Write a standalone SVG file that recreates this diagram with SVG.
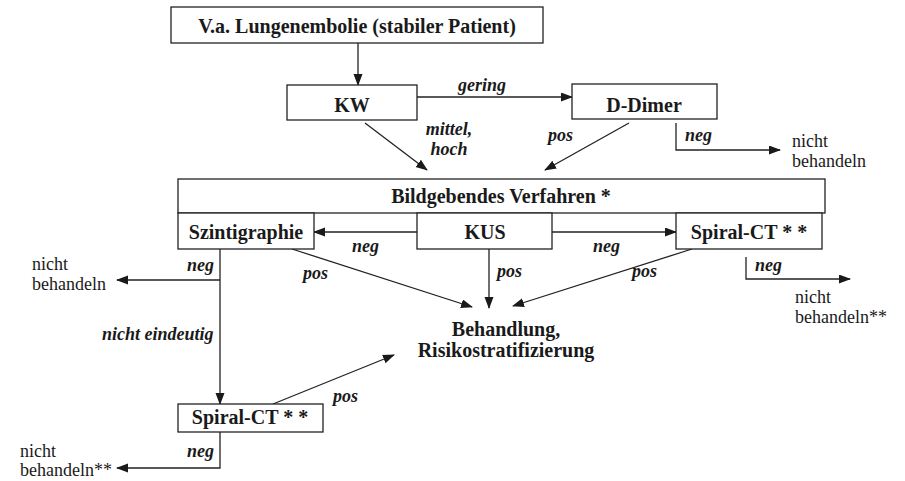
<svg xmlns="http://www.w3.org/2000/svg" width="905" height="481" viewBox="0 0 905 481">
<style>
.box{fill:#fff;stroke:#222;stroke-width:1.3}
.bt{font-family:'Liberation Serif','Noto Serif','DejaVu Serif',serif;font-weight:bold;font-size:20px;fill:#1a1a1a;text-anchor:middle}
.lb{font-family:'Liberation Serif','Noto Serif','DejaVu Serif',serif;font-weight:bold;font-style:italic;font-size:18px;fill:#1a1a1a}
.nt{font-family:'Liberation Serif','Noto Serif','DejaVu Serif',serif;font-size:18px;fill:#1a1a1a}
.ln{fill:none;stroke:#222;stroke-width:1.3}
.ar{marker-end:url(#ah)}
</style>
<defs>
<marker id="ah" markerUnits="userSpaceOnUse" markerWidth="12" markerHeight="10" refX="11" refY="4.5" orient="auto">
<path d="M0,0 L12,4.5 L0,9 z" fill="#1a1a1a"/>
</marker>
</defs>
<rect width="905" height="481" fill="#fff"/>
<g id="connectors">
<line class="ln ar" x1="358" y1="43" x2="358" y2="85"/>
<line class="ln ar" x1="417" y1="97" x2="572" y2="97"/>
<line class="ln ar" x1="365" y1="123" x2="427" y2="170"/>
<line class="ln ar" x1="629" y1="123" x2="545" y2="170"/>
<polyline class="ln ar" points="676,123 676,150 780,150"/>
<line class="ln ar" x1="417" y1="232" x2="314" y2="232"/>
<line class="ln ar" x1="552" y1="232" x2="676" y2="232"/>
<line class="ln ar" x1="292" y1="249" x2="472" y2="307"/>
<line class="ln ar" x1="489" y1="249" x2="489" y2="308"/>
<line class="ln ar" x1="692" y1="249" x2="513" y2="306"/>
<line class="ln ar" x1="220" y1="249" x2="220" y2="404"/>
<polyline class="ln ar" points="220,280 117,280"/>
<polyline class="ln ar" points="746,257 746,279 850,279"/>
<line class="ln ar" x1="273" y1="404" x2="394" y2="355"/>
<polyline class="ln ar" points="220,431 220,468 117,468"/>
<text class="lb" x="458" y="91">gering</text>
<text class="lb" x="449" y="135" text-anchor="middle">mittel,</text>
<text class="lb" x="449" y="155" text-anchor="middle">hoch</text>
<text class="lb" x="548" y="141">pos</text>
<text class="lb" x="685" y="141">neg</text>
<text class="lb" x="352" y="252">neg</text>
<text class="lb" x="593" y="252">neg</text>
<text class="lb" x="303" y="279">pos</text>
<text class="lb" x="497" y="277">pos</text>
<text class="lb" x="632" y="277">pos</text>
<text class="lb" x="187" y="271">neg</text>
<text class="lb" x="755" y="271">neg</text>
<text class="lb" x="102" y="340">nicht eindeutig</text>
<text class="lb" x="333" y="402">pos</text>
<text class="lb" x="187" y="457">neg</text>
</g>
<g id="start">
<rect class="box" x="171" y="7" width="372" height="36"/>
<text class="bt" x="357" y="33">V.a. Lungenembolie (stabiler Patient)</text>
</g>
<g id="kw">
<rect class="box" x="287" y="85" width="130" height="35"/>
<text class="bt" x="352" y="112">KW</text>
</g>
<g id="ddimer">
<rect class="box" x="572" y="84" width="145" height="35"/>
<text class="bt" x="644" y="112">D-Dimer</text>
</g>
<g id="nb1">
<text class="nt" x="792" y="147">nicht</text>
<text class="nt" x="792" y="167">behandeln</text>
</g>
<g id="bildgebend">
<rect class="box" x="178" y="179" width="647" height="34"/>
<text class="bt" x="501" y="203">Bildgebendes Verfahren *</text>
</g>
<g id="szinti">
<rect class="box" x="178" y="213" width="136" height="36"/>
<text class="bt" x="246" y="239">Szintigraphie</text>
</g>
<g id="kus">
<rect class="box" x="417" y="213" width="135" height="36"/>
<text class="bt" x="485" y="239">KUS</text>
</g>
<g id="spiral1">
<rect class="box" x="676" y="213" width="146" height="36"/>
<text class="bt" x="749" y="239">Spiral-CT * *</text>
</g>
<g id="nb2">
<text class="nt" x="32" y="270">nicht</text>
<text class="nt" x="32" y="290">behandeln</text>
</g>
<g id="nb3">
<text class="nt" x="795" y="303">nicht</text>
<text class="nt" x="795" y="323">behandeln**</text>
</g>
<g id="behandlung">
<text class="bt" x="506" y="336">Behandlung,</text>
<text class="bt" x="506" y="357">Risikostratifizierung</text>
</g>
<g id="spiral2">
<rect class="box" x="178" y="404" width="145" height="28"/>
<text class="bt" x="250" y="424">Spiral-CT * *</text>
</g>
<g id="nb4">
<text class="nt" x="20" y="457">nicht</text>
<text class="nt" x="20" y="476">behandeln**</text>
</g>
</svg>
